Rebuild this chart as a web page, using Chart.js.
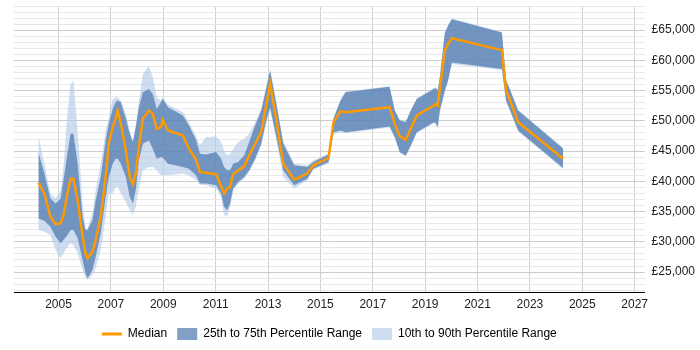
<!DOCTYPE html>
<html>
<head>
<meta charset="utf-8">
<script src="https://cdn.jsdelivr.net/npm/chart.js@4"></script>
<style>
  html, body { margin: 0; padding: 0; background: #fff; }
  #wrap { width: 700px; height: 350px; }
</style>
</head>
<body>
<div id="wrap"><canvas id="chart"></canvas></div>
<script>
// sample dates (decimal years)
const years = [2004.23, 2004.46, 2004.69, 2004.89, 2005.08, 2005.19, 2005.34, 2005.46, 2005.57, 2005.73,
  2005.92, 2006.03, 2006.11, 2006.30, 2006.42, 2006.61, 2006.80, 2006.92, 2007.07, 2007.18,
  2007.26, 2007.38, 2007.57, 2007.72, 2007.84, 2007.95, 2008.07, 2008.22, 2008.45, 2008.60,
  2008.75, 2008.91, 2008.98, 2009.18, 2009.75, 2009.98, 2010.25, 2010.40, 2010.63, 2011.02,
  2011.21, 2011.32, 2011.44, 2011.55, 2011.67, 2011.86, 2012.09, 2012.28, 2012.51, 2012.74,
  2012.93, 2013.08, 2013.31, 2013.58, 2014.00, 2014.50, 2014.73, 2015.31, 2015.50, 2015.77,
  2015.96, 2017.64, 2017.84, 2018.03, 2018.26, 2018.45, 2018.68, 2019.33, 2019.41, 2019.48,
  2019.56, 2019.75, 2019.87, 2020.02, 2021.93, 2022.09, 2022.20, 2022.55, 2024.27];

const median = [39800, 38000, 34140, 32930, 33040, 34420, 38000, 40450, 40450, 36890,
  30850, 28100, 27280, 28380, 30300, 34140, 40730, 46220, 48960, 50340,
  51710, 49510, 45120, 40730, 39520, 41280, 45670, 50340, 51710, 51160,
  48690, 48960, 50170, 48420, 47590, 45400, 43600, 41550, 41440, 41170,
  39190, 37980, 38810, 39080, 41170, 41820, 42490, 44290, 46220, 48140,
  52530, 56100, 50340, 42930, 40290, 41280, 42650, 43860, 49790, 51600,
  51430, 52260, 49510, 47430, 46880, 48690, 50890, 52530, 52810, 52530,
  55280, 61590, 62690, 63680, 61700, 55000, 53900, 49790, 43750];

const p25 = [33870, 33480, 32490, 30850, 29750, 30300, 31120, 31950, 31950, 30570,
  27000, 24810, 23990, 25360, 27550, 31400, 37430, 40730, 42930, 43750,
  43750, 42930, 40730, 37430, 36330, 38530, 43470, 46220, 46770, 45400,
  43750, 44020, 43910, 42930, 42370, 42100, 41000, 39630, 39630, 39360,
  37980, 35790, 35240, 36330, 38810, 39900, 40730, 41820, 43750, 46220,
  50060, 52260, 47500, 41820, 39360, 40450, 42100, 43200, 48140, 48420,
  48140, 49070, 47320, 44850, 44290, 45940, 48140, 49790, 49620, 48960,
  51710, 55000, 56650, 59670, 58570, 53360, 52260, 48410, 42210];

const p75 = [44850, 41280, 37160, 36340, 37160, 40180, 44570, 47870, 47870, 42930,
  34140, 31950, 31950, 33590, 36890, 40730, 46770, 49510, 51980, 53080,
  53360, 53080, 50340, 47870, 46490, 48960, 52260, 54730, 55280, 54450,
  51980, 53080, 53630, 52260, 50890, 49240, 46900, 44570, 44460, 44850,
  43750, 42370, 41820, 41820, 42930, 43200, 44290, 46490, 49240, 51710,
  55280, 58300, 53000, 46220, 42650, 42370, 43200, 44460, 50340, 53360,
  54730, 55660, 51710, 50060, 49790, 51710, 53630, 55280, 55440, 54990,
  57200, 64500, 65710, 66810, 64610, 56650, 55550, 51710, 45400];

const p10 = [31950, 31670, 31120, 28650, 27280, 28100, 29200, 29750, 29470, 28100,
  25360, 23990, 23710, 24530, 25630, 28650, 34140, 37980, 37980, 39080,
  39080, 37980, 36610, 35240, 34420, 35790, 38800, 41820, 42370, 42370,
  41820, 41000, 41000, 41000, 41280, 41000, 40180, 39400, 39360, 38810,
  37430, 34420, 34140, 35790, 38530, 39630, 40450, 41550, 43470, 45940,
  49510, 51710, 47000, 40730, 38810, 40180, 41940, 42930, 47750, 48140,
  47970, 48900, 47150, 44680, 44130, 45780, 47970, 49620, 49400, 48690,
  51430, 54700, 56380, 59400, 58410, 53100, 52000, 48250, 42000];

const p90 = [47590, 42930, 37980, 37160, 38530, 42380, 51160, 56100, 56650, 48420,
  36340, 32200, 32200, 34960, 38530, 42930, 48420, 50610, 53630, 53900,
  53900, 53360, 51160, 48420, 46770, 49200, 53360, 57750, 59120, 57200,
  53900, 53360, 53900, 52700, 51430, 49790, 47500, 45940, 47320, 47430,
  46490, 45120, 44290, 44570, 45400, 46490, 47040, 47870, 49790, 51980,
  55830, 58500, 53300, 46770, 42930, 42650, 43470, 44570, 50500, 53520,
  54840, 55720, 51820, 50170, 49900, 51820, 53740, 55390, 55550, 55110,
  57310, 64700, 65870, 66920, 64720, 56800, 55700, 51820, 45600];

const xTickYears = [2005, 2007, 2009, 2011, 2013, 2015, 2017, 2019, 2021, 2023, 2025, 2027];

const ORANGE = '#ff9900';
const DARK = 'rgba(70,115,170,0.68)';
const LIGHT = 'rgba(180,203,230,0.65)';
const FONT = {family: '"Liberation Sans", Arial, sans-serif', size: 12, lineHeight: 1};

function pts(arr) {
    return years.map((x, i) => ({x: x, y: arr[i]}));
}

const band = {pointRadius: 0, borderWidth: 0, tension: 0};

// centre the legend under the plot area rather than the whole canvas
const legendUnderPlot = {
    id: 'legendUnderPlot',
    afterLayout(chart) {
        if (chart.legend) {
            chart.legend.left = chart.chartArea.left;
            chart.legend.right = chart.chartArea.right;
        }
    }
};

new Chart(document.getElementById('chart'), {
    type: 'line',
    data: {
        datasets: [
            Object.assign({label: 'Median', data: pts(median), borderColor: ORANGE, backgroundColor: ORANGE,
                fill: false, order: 0}, band, {borderWidth: 2.5}),
            Object.assign({label: 'p75', data: pts(p75), backgroundColor: DARK, fill: '+1', order: 1}, band),
            Object.assign({label: 'p25', data: pts(p25), backgroundColor: DARK, fill: false, order: 1}, band),
            Object.assign({label: 'p90', data: pts(p90), backgroundColor: LIGHT, fill: '+1', order: 2}, band),
            Object.assign({label: 'p10', data: pts(p10), backgroundColor: LIGHT, fill: false, order: 2}, band)
        ]
    },
    plugins: [legendUnderPlot],
    options: {
        responsive: true,
        maintainAspectRatio: false,
        animation: false,
        layout: {padding: {left: 14, right: 5, top: 0, bottom: 0}},
        font: FONT,
        scales: {
            x: {
                type: 'linear',
                min: 2003.3,
                max: 2027.38,
                afterBuildTicks: axis => { axis.ticks = xTickYears.map(v => ({value: v})); },
                ticks: {
                    autoSkip: false, maxRotation: 0, padding: 7, color: '#222', font: FONT,
                    callback: v => String(v)
                },
                grid: {color: '#cfcfcf', drawTicks: false},
                border: {color: '#000', width: 1}
            },
            y: {
                position: 'right',
                min: 21700,
                max: 69000,
                afterBuildTicks: axis => {
                    const t = [];
                    for (let v = 22000; v <= 69000; v += 1000) t.push({value: v});
                    axis.ticks = t;
                },
                ticks: {
                    autoSkip: false, padding: 0, color: '#222', font: FONT,
                    callback: v => v % 5000 === 0 ? '£' + v.toLocaleString('en-GB') : ''
                },
                grid: {
                    drawTicks: true,
                    tickLength: 7,
                    tickColor: 'rgba(0,0,0,0)',
                    color: c => (c.tick && c.tick.value % 5000 === 0) ? '#cccccc' : '#e8e8e8'
                },
                border: {display: false}
            }
        },
        plugins: {
            tooltip: {enabled: false},
            legend: {
                position: 'bottom',
                labels: {
                    usePointStyle: true,
                    pointStyleWidth: 20,
                    boxHeight: 12,
                    padding: 10,
                    color: '#222',
                    font: FONT,
                    generateLabels: () => [
                        {text: 'Median', pointStyle: 'line', strokeStyle: ORANGE, fillStyle: ORANGE,
                            lineWidth: 3, hidden: false, datasetIndex: 0},
                        {text: '25th to 75th Percentile Range', pointStyle: 'rect', fillStyle: DARK,
                            strokeStyle: DARK, lineWidth: 0, hidden: false, datasetIndex: 1},
                        {text: '10th to 90th Percentile Range', pointStyle: 'rect', fillStyle: LIGHT,
                            strokeStyle: LIGHT, lineWidth: 0, hidden: false, datasetIndex: 3}
                    ]
                }
            }
        }
    }
});
</script>
</body>
</html>
